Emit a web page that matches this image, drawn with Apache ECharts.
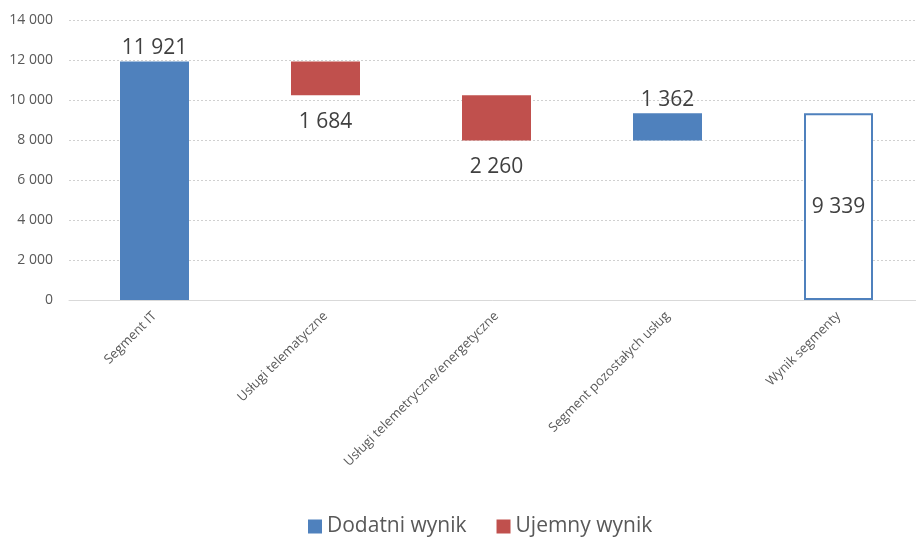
<!DOCTYPE html>
<html>
<head>
<meta charset="utf-8">
<script src="https://cdn.jsdelivr.net/npm/echarts@6/dist/echarts.min.js"></script>
<style>
    html, body { margin: 0; padding: 0; background: #fff; }
    #chart { width: 916px; height: 538px; }
</style>
</head>
<body>
<div id="chart"></div>
<script>
// 数据
const categories = ['Segment IT', 'Usługi telematyczne', 'Usługi telemetryczne/energetyczne', 'Segment pozostałych usług', 'Wynik segmenty'];
const baseValues = [0, 10237, 7977, 7977, 0];
const positiveValues = [11921, '-', '-', 1362, '-'];
const negativeValues = ['-', 1684, 2260, '-', '-'];
const totalValues = ['-', '-', '-', '-', 9339];
const yTicks = [0, 2000, 4000, 6000, 8000, 10000, 12000, 14000];

const fmt = v => String(v).replace(/\B(?=(\d{3})+(?!\d))/g, ' ');
const font = 'Open Sans, Noto Sans, sans-serif';

const chart = echarts.init(document.getElementById('chart'));
chart.setOption({
    animation: false,
    textStyle: { fontFamily: font },
    grid: {
        left: 69,
        top: 20,
        width: 855,
        height: 280,
        outerBoundsMode: 'none'
    },
    legend: {
        data: ['Dodatni wynik', 'Ujemny wynik'],
        top: 511,
        left: 303,
        icon: 'rect',
        itemWidth: 14,
        itemHeight: 14,
        itemGap: 30,
        textStyle: { fontSize: 21, color: '#595959', fontFamily: font }
    },
    xAxis: {
        type: 'category',
        data: categories,
        axisLine: { lineStyle: { color: '#d9d9d9', width: 1 } },
        axisTick: { show: false },
        axisLabel: {
            rotate: 45,
            fontSize: 13,
            color: '#595959',
            margin: 14,
            interval: 0
        }
    },
    yAxis: {
        type: 'value',
        min: yTicks[0],
        max: yTicks[yTicks.length - 1],
        interval: 2000,
        axisLine: { show: false },
        axisTick: { show: false },
        splitLine: { lineStyle: { color: '#d0d0d0', type: [2, 2] } },
        axisLabel: {
            fontSize: 14,
            color: '#595959',
            margin: 16,
            formatter: v => fmt(v)
        }
    },
    series: [{
        name: 'base',
        type: 'bar',
        stack: 'w',
        barWidth: 69,
        itemStyle: { color: 'transparent' },
        data: baseValues,
        silent: true
    }, {
        name: 'Dodatni wynik',
        type: 'bar',
        stack: 'w',
        barWidth: 69,
        itemStyle: { color: '#4f81bd' },
        label: {
            show: true,
            position: 'top',
            distance: 3,
            fontSize: 21,
            color: '#404040',
            formatter: p => fmt(p.value)
        },
        data: positiveValues
    }, {
        name: 'Ujemny wynik',
        type: 'bar',
        stack: 'w',
        barWidth: 69,
        itemStyle: { color: '#c0504d' },
        label: {
            show: true,
            position: 'bottom',
            distance: 16,
            fontSize: 21,
            color: '#404040',
            formatter: p => fmt(p.value)
        },
        data: negativeValues
    }, {
        name: 'Wynik',
        type: 'bar',
        stack: 'w',
        barWidth: 69,
        itemStyle: { color: '#ffffff', borderColor: '#4f81bd', borderWidth: 2 },
        label: {
            show: true,
            position: 'inside',
            fontSize: 21,
            color: '#404040',
            formatter: p => fmt(p.value)
        },
        data: totalValues
    }]
});
</script>
</body>
</html>
